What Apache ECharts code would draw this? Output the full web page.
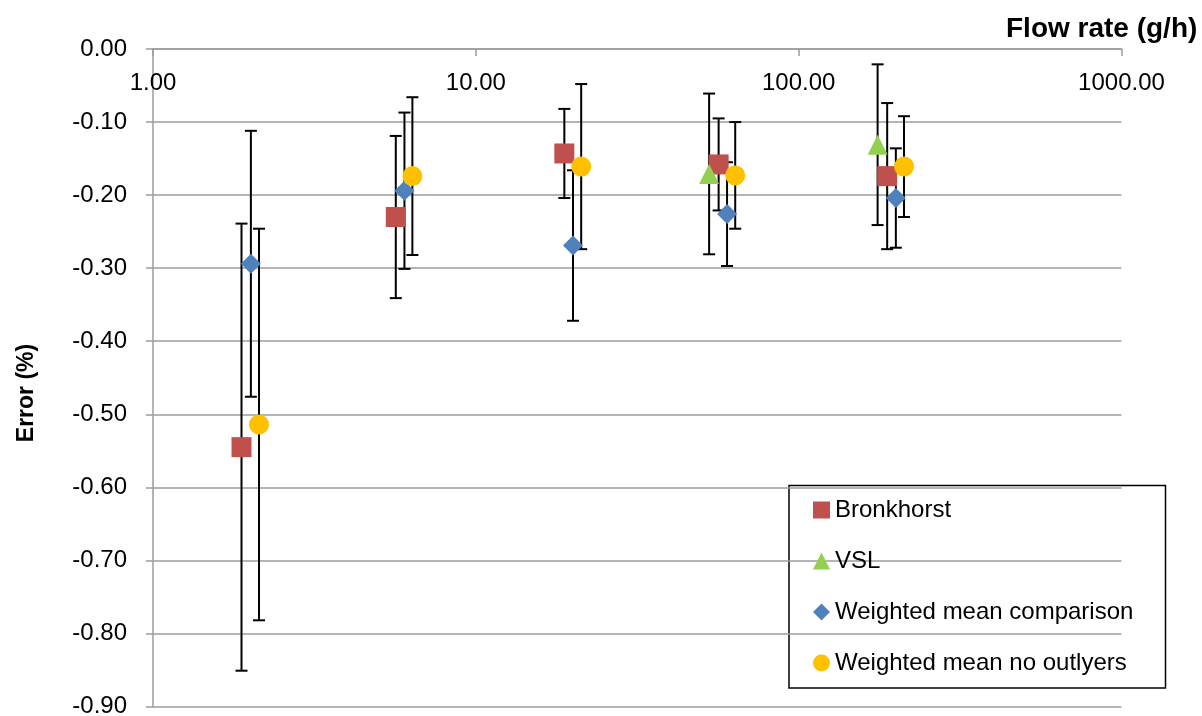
<!DOCTYPE html>
<html>
<head>
<meta charset="utf-8">
<script src="https://cdn.jsdelivr.net/npm/echarts@6/dist/echarts.min.js"></script>
<style>
  html, body { margin: 0; padding: 0; background: #ffffff; }
  #chart { width: 1202px; height: 716px; }
</style>
</head>
<body>
<div id="chart"></div>
<script>
// Calibration results: flow rate (g/h), error (%) and expanded uncertainty (±, %)
const seriesNames = ['Bronkhorst', 'VSL', 'Weighted mean comparison', 'Weighted mean no outlyers'];

const bronkhorstFlow  = [1.88, 5.65, 18.8, 56.5, 188];
const bronkhorstError = [-0.545, -0.230, -0.143, -0.158, -0.174];
const bronkhorstU     = [0.306, 0.111, 0.061, 0.063, 0.100];

const vslFlow  = [52.8, 175.6];
const vslError = [-0.171, -0.131];
const vslU     = [0.110, 0.110];

const wmcFlow  = [2.01, 6.01, 20.0, 60.0, 200];
const wmcError = [-0.294, -0.194, -0.269, -0.226, -0.204];
const wmcU     = [0.182, 0.107, 0.103, 0.071, 0.068];

const wmnoFlow  = [2.13, 6.36, 21.2, 63.6, 212];
const wmnoError = [-0.514, -0.174, -0.161, -0.173, -0.161];
const wmnoU     = [0.268, 0.108, 0.113, 0.073, 0.069];

const xTicks = [1, 10, 100, 1000];
const yTicks = [0, -0.1, -0.2, -0.3, -0.4, -0.5, -0.6, -0.7, -0.8, -0.9];

const FONT = 'Liberation Sans';
const GRID_GRAY = '#9c9c9c';

function pairs(xs, ys) {
  return xs.map((x, i) => [x, ys[i]]);
}

// Vertical error bar with end caps, one per point
function errorBars(name, xs, ys, us) {
  return {
    type: 'custom',
    name: name + ' uncertainty',
    silent: true,
    z: 2,
    data: xs.map((x, i) => [x, ys[i] - us[i], ys[i] + us[i]]),
    encode: { x: 0, y: [1, 2] },
    renderItem: function (params, api) {
      const lo = api.coord([api.value(0), api.value(1)]);
      const hi = api.coord([api.value(0), api.value(2)]);
      const half = 6;
      const style = { stroke: '#000000', lineWidth: 2, fill: null };
      return {
        type: 'group',
        children: [
          { type: 'line', shape: { x1: lo[0], y1: lo[1], x2: hi[0], y2: hi[1] }, style: style },
          { type: 'line', shape: { x1: lo[0] - half, y1: lo[1], x2: lo[0] + half, y2: lo[1] }, style: style },
          { type: 'line', shape: { x1: hi[0] - half, y1: hi[1], x2: hi[0] + half, y2: hi[1] }, style: style }
        ]
      };
    }
  };
}

function markers(name, xs, ys, symbol, size, color) {
  return {
    type: 'scatter',
    name: name,
    z: 5,
    symbol: symbol,
    symbolSize: size,
    itemStyle: { color: color, opacity: 1 },
    data: pairs(xs, ys)
  };
}

const chart = echarts.init(document.getElementById('chart'), null, { renderer: 'canvas' });

chart.setOption({
  animation: false,
  backgroundColor: '#ffffff',
  textStyle: { fontFamily: FONT },
  grid: { left: 153, top: 49, right: 80.5, bottom: 9.5, containLabel: false, outerBoundsMode: 'none' },
  xAxis: {
    type: 'log',
    logBase: 10,
    min: xTicks[0],
    max: xTicks[xTicks.length - 1],
    position: 'top',
    axisLine: { show: true, lineStyle: { color: GRID_GRAY, width: 1.5 } },
    axisTick: { show: true, inside: true, length: 7, lineStyle: { color: GRID_GRAY, width: 1.5 } },
    minorTick: { show: false },
    splitLine: { show: false },
    axisLabel: {
      inside: true,
      margin: 22,
      fontFamily: FONT,
      fontSize: 24,
      color: '#000000',
      formatter: v => Number(v).toFixed(2)
    }
  },
  yAxis: {
    type: 'value',
    min: yTicks[yTicks.length - 1],
    max: yTicks[0],
    interval: 0.1,
    axisLine: { show: true, lineStyle: { color: GRID_GRAY, width: 1.5 } },
    axisTick: { show: true, length: 7, lineStyle: { color: GRID_GRAY, width: 1.5 } },
    splitLine: { show: true, lineStyle: { color: GRID_GRAY, width: 1.5 } },
    axisLabel: {
      margin: 26,
      fontFamily: FONT,
      fontSize: 24,
      color: '#000000',
      formatter: v => Number(v).toFixed(2)
    }
  },
  legend: {
    orient: 'vertical',
    left: 813,
    top: 497,
    padding: 0,
    itemWidth: 17,
    itemHeight: 17,
    itemGap: 25,
    data: seriesNames,
    textStyle: { fontFamily: FONT, fontSize: 24, color: '#000000', lineHeight: 26 }
  },
  graphic: [
    {
      type: 'rect',
      shape: { x: 789, y: 485.5, width: 376.5, height: 202.5 },
      style: { fill: '#ffffff', stroke: '#000000', lineWidth: 1.5 },
      z: 0, zlevel: 0, silent: true
    },
    {
      type: 'text',
      x: 1006,
      y: 29,
      style: {
        text: 'Flow rate (g/h)',
        font: 'bold 28px "Liberation Sans"',
        fill: '#000000',
        align: 'left',
        verticalAlign: 'middle'
      }
    },
    {
      type: 'text',
      x: 27,
      y: 393,
      rotation: Math.PI / 2,
      style: {
        text: 'Error (%)',
        font: 'bold 23px "Liberation Sans"',
        fill: '#000000',
        align: 'center',
        verticalAlign: 'middle'
      }
    }
  ],
  series: [
    errorBars(seriesNames[0], bronkhorstFlow, bronkhorstError, bronkhorstU),
    errorBars(seriesNames[1], vslFlow, vslError, vslU),
    errorBars(seriesNames[2], wmcFlow, wmcError, wmcU),
    errorBars(seriesNames[3], wmnoFlow, wmnoError, wmnoU),
    markers(seriesNames[0], bronkhorstFlow, bronkhorstError, 'rect', 20, '#C0504D'),
    markers(seriesNames[1], vslFlow, vslError, 'triangle', 20, '#92D050'),
    markers(seriesNames[2], wmcFlow, wmcError, 'diamond', 20, '#4F81BD'),
    markers(seriesNames[3], wmnoFlow, wmnoError, 'circle', 20, '#FFC000')
  ]
});
</script>
</body>
</html>
